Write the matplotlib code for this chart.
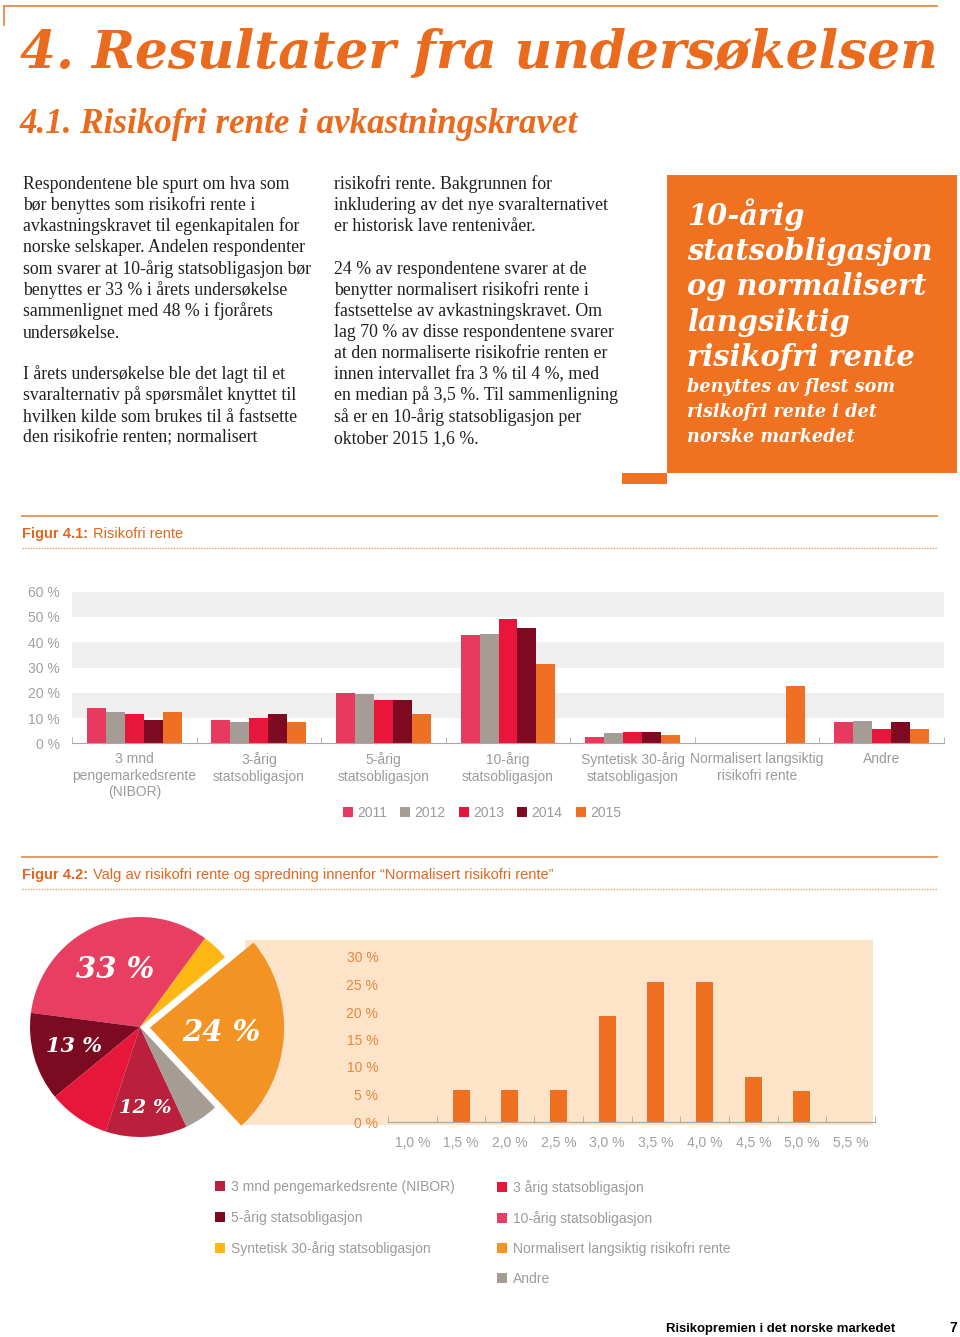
import numpy as np
import matplotlib
matplotlib.use("Agg")
import matplotlib.pyplot as plt
from matplotlib.patches import Rectangle
from matplotlib.lines import Line2D

W, H = 960, 1337
fig = plt.figure(figsize=(9.6, 13.37), dpi=100)
renderer = fig.canvas.get_renderer()


def fx(x):
    return x / W


def fy(y):
    return 1 - y / H


ORANGE = "#EB6B1E"
GREY_TXT = "#9B9B9B"
SANS = "Liberation Sans"
SERIF = "Liberation Serif"
HEAD = "DejaVu Serif"

# ---------------- data ----------------
years = ["2011", "2012", "2013", "2014", "2015"]
year_colors = ["#E8395F", "#A59D95", "#E8163A", "#7E0A22", "#F07023"]
categories = ["3 mnd\npengemarkedsrente\n(NIBOR)", "3-årig\nstatsobligasjon",
              "5-årig\nstatsobligasjon", "10-årig\nstatsobligasjon",
              "Syntetisk 30-årig\nstatsobligasjon",
              "Normalisert langsiktig\nrisikofri rente", "Andre"]
share_2011 = [14.1, 9.3, 20.0, 42.7, 2.6, 0, 8.5]
share_2012 = [12.3, 8.5, 19.5, 43.1, 4.1, 0, 9.0]
share_2013 = [11.5, 9.9, 17.1, 49.1, 4.6, 0, 5.8]
share_2014 = [9.3, 11.5, 17.1, 45.8, 4.6, 0, 8.4]
share_2015 = [12.3, 8.4, 11.5, 31.3, 3.3, 22.8, 5.8]
bar_ticks = [0, 10, 20, 30, 40, 50, 60]

pie_labels = ["3 mnd pengemarkedsrente (NIBOR)", "3 årig statsobligasjon",
              "5-årig statsobligasjon", "10-årig statsobligasjon",
              "Syntetisk 30-årig statsobligasjon",
              "Normalisert langsiktig risikofri rente", "Andre"]
pie_values = [12, 9, 13, 33, 4, 24, 5]
pie_colors = ["#BA1F3B", "#E6173A", "#7C0B21", "#E83E62", "#FDB813", "#F39324", "#A59C94"]
pie_text = {0: "12 %", 2: "13 %", 3: "33 %", 5: "24 %"}
pie_draw_order = [5, 4, 3, 2, 1, 0, 6]

hist_bins = ["1,0 %", "1,5 %", "2,0 %", "2,5 %", "3,0 %", "3,5 %",
             "4,0 %", "4,5 %", "5,0 %", "5,5 %"]
hist_share = [0, 5.9, 5.9, 5.9, 19.3, 25.4, 25.4, 8.2, 5.6, 0]
hist_ticks = [0, 5, 10, 15, 20, 25, 30]

left_col = ["Respondentene ble spurt om hva som",
            "bør benyttes som risikofri rente i",
            "avkastningskravet til egenkapitalen for",
            "norske selskaper. Andelen respondenter",
            "som svarer at 10-årig statsobligasjon bør",
            "benyttes er 33 % i årets undersøkelse",
            "sammenlignet med 48 % i fjorårets",
            "undersøkelse.",
            "",
            "I årets undersøkelse ble det lagt til et",
            "svaralternativ på spørsmålet knyttet til",
            "hvilken kilde som brukes til å fastsette",
            "den risikofrie renten; normalisert"]
mid_col = ["risikofri rente. Bakgrunnen for",
           "inkludering av det nye svaralternativet",
           "er historisk lave rentenivåer.",
           "",
           "24 % av respondentene svarer at de",
           "benytter normalisert risikofri rente i",
           "fastsettelse av avkastningskravet. Om",
           "lag 70 % av disse respondentene svarer",
           "at den normaliserte risikofrie renten er",
           "innen intervallet fra 3 % til 4 %, med",
           "en median på 3,5 %. Til sammenligning",
           "så er en 10-årig statsobligasjon per",
           "oktober 2015 1,6 %."]
callout_big = ["10-årig", "statsobligasjon", "og normalisert", "langsiktig", "risikofri rente"]
callout_small = ["benyttes av flest som", "risikofri rente i det", "norske markedet"]


def fit(t, width):
    bb = t.get_window_extent(renderer)
    t.set_fontsize(t.get_fontsize() * width / bb.width)


def hline(x0, x1, y, **kw):
    fig.add_artist(Line2D([fx(x0), fx(x1)], [fy(y), fy(y)], transform=fig.transFigure, **kw))


# ---------------- page header ----------------
hline(4, 937, 6, color="#E8803A", lw=1.2)
fig.add_artist(Line2D([fx(4), fx(4)], [fy(6), fy(25)], transform=fig.transFigure,
                      color="#E8803A", lw=1.2))
t = fig.text(fx(20), fy(68), "4. Resultater fra undersøkelsen", color=ORANGE,
             family=HEAD, style="italic", weight="bold", fontsize=40, va="baseline")
fit(t, 918)
t = fig.text(fx(20), fy(133), "4.1. Risikofri rente i avkastningskravet", color=ORANGE,
             family=SERIF, style="italic", weight="bold", fontsize=20, va="baseline")
fit(t, 558)

body_size = 12.8
for k, line in enumerate(left_col):
    fig.text(fx(23), fy(189 + 21.15 * k), line, family=SERIF, fontsize=body_size,
             color="#231F20", va="baseline")
for k, line in enumerate(mid_col):
    fig.text(fx(334), fy(189 + 21.15 * k), line, family=SERIF, fontsize=body_size,
             color="#231F20", va="baseline")

# orange call-out box
fig.add_artist(Rectangle((fx(667), fy(473)), (957 - 667) / W, (473 - 175) / H,
                         transform=fig.transFigure, color="#F0711F", lw=0))
fig.add_artist(Rectangle((fx(622), fy(484)), (667 - 622) / W, 11 / H,
                         transform=fig.transFigure, color="#F0711F", lw=0))
big = []
for k, line in enumerate(callout_big):
    big.append(fig.text(fx(687), fy(225 + 35.2 * k), line, color="white", family=HEAD,
                        style="italic", weight="bold", fontsize=26, va="baseline"))
fit(big[1], 246)
for b in big:
    b.set_fontsize(big[1].get_fontsize())
small = []
for k, line in enumerate(callout_small):
    small.append(fig.text(fx(687), fy(392 + 25 * k), line, color="white", family=HEAD,
                          style="italic", weight="bold", fontsize=17, va="baseline"))
fit(small[0], 208)
for s in small:
    s.set_fontsize(small[0].get_fontsize())

# figure captions
for y_solid, y_txt, y_dot, num, cap in [
        (516, 538, 548, "Figur 4.1:", "Risikofri rente"),
        (857, 879, 889, "Figur 4.2:", "Valg av risikofri rente og spredning innenfor \u201cNormalisert risikofri rente\u201d")]:
    hline(22, 937, y_solid, color="#E49A66", lw=1.4)
    fig.text(fx(22), fy(y_txt), num, family=SANS, weight="bold", fontsize=10.5,
             color="#E2661F", va="baseline")
    fig.text(fx(93), fy(y_txt), cap, family=SANS, fontsize=10.5, color="#E2661F", va="baseline")
    hline(22, 937, y_dot, color="#E8904F", lw=0.9, ls=(0, (1, 1.2)))

# ---------------- Figur 4.1: bar chart ----------------
ax1 = fig.add_axes([fx(72), fy(743.3), (944 - 72) / W, 151.6 / H])
x = np.arange(len(categories))
bw = 0.1525
series = [share_2011, share_2012, share_2013, share_2014, share_2015]
for i, (yr, vals, col) in enumerate(zip(years, series, year_colors)):
    ax1.bar(x + (i - 2) * bw, vals, bw, color=col, label=yr, zorder=2, lw=0)
for lo in (10, 30, 50):
    ax1.axhspan(lo, lo + 10, color="#F0F0F0", zorder=0, lw=0)
ax1.set_xlim(-0.5, len(categories) - 0.5)
ax1.set_ylim(0, 60)
for s in ("top", "right", "left"):
    ax1.spines[s].set_visible(False)
ax1.spines["bottom"].set_color("#A8A8A8")
ax1.set_xticks(x)
ax1.set_xticklabels(categories, fontsize=10, color=GREY_TXT, family=SANS, linespacing=1.2)
ax1.set_xticks(np.arange(len(categories) + 1) - 0.5, minor=True)
ax1.tick_params(axis="x", which="major", length=0, pad=6.5)
ax1.tick_params(axis="x", which="minor", length=4, direction="in", color="#A8A8A8")
ax1.set_yticks(bar_ticks)
ax1.set_yticklabels([f"{v} %" for v in bar_ticks], fontsize=10, color="#A0A0A0", family=SANS)
ax1.tick_params(axis="y", length=0, pad=9)
ax1.set_facecolor("white")
ax1.legend(loc="center", bbox_to_anchor=(fx(482), fy(813)), bbox_transform=fig.transFigure,
           ncol=5, frameon=False, handlelength=0.72, handleheight=0.72, handletextpad=0.3,
           columnspacing=0.95, borderaxespad=0, prop={"family": SANS, "size": 10},
           labelcolor=GREY_TXT)

# ---------------- Figur 4.2: pie + distribution ----------------
fig.add_artist(Rectangle((fx(245), fy(1125)), (873 - 245) / W, (1125 - 940) / H,
                         transform=fig.transFigure, color="#FDE3C8", lw=0, zorder=-1))

ax2 = fig.add_axes([fx(30), fy(1137), 220 / W, 220 / H])
ax2.patch.set_alpha(0)
vals = [pie_values[i] for i in pie_draw_order]
cols = [pie_colors[i] for i in pie_draw_order]
expl = [0.09 if i == 5 else 0 for i in pie_draw_order]
wedges, _ = ax2.pie(vals, colors=cols, explode=expl, startangle=-47, counterclock=True,
                    wedgeprops=dict(linewidth=0))
ax2.set_xlim(-1, 1)
ax2.set_ylim(-1, 1)
label_dist = {0: 0.74, 2: 0.62, 3: 0.57, 5: 0.65}
label_size = {0: 14, 2: 15, 3: 21, 5: 21}
for w, idx in zip(wedges, pie_draw_order):
    w.set_clip_on(False)
    if idx == 5:
        w.set_radius(1.22)
    if idx in pie_text:
        mid = np.deg2rad((w.theta1 + w.theta2) / 2)
        cx, cy = w.center
        d = label_dist[idx]
        ax2.text(cx + d * np.cos(mid), cy + d * np.sin(mid), pie_text[idx], color="white",
                 family=HEAD, style="italic", weight="bold",
                 fontsize=label_size[idx], ha="center", va="center")

ax3 = fig.add_axes([fx(388), fy(1122), (875 - 388) / W, 165 / H])
ax3.patch.set_alpha(0)
xb = np.arange(len(hist_bins))
ax3.bar(xb, hist_share, 0.35, color="#F07022", lw=0)
ax3.set_xlim(-0.5, len(hist_bins) - 0.5)
ax3.set_ylim(0, 30)
for s in ("top", "right", "left"):
    ax3.spines[s].set_visible(False)
ax3.spines["bottom"].set_color("#A8A8A8")
ax3.set_xticks(xb)
ax3.set_xticklabels(hist_bins, fontsize=10, color="#A0A0A0", family=SANS)
ax3.set_xticks(np.arange(len(hist_bins) + 1) - 0.5, minor=True)
ax3.tick_params(axis="x", which="major", length=0, pad=10)
ax3.tick_params(axis="x", which="minor", length=4, direction="in", color="#A8A8A8")
ax3.set_yticks(hist_ticks)
ax3.set_yticklabels([f"{v} %" for v in hist_ticks], fontsize=10, color="#E8873F", family=SANS)
ax3.tick_params(axis="y", length=0, pad=7)

# pie legend in two columns
left_idx = [0, 2, 4]
right_idx = [1, 3, 5, 6]
by_idx = dict(zip(pie_draw_order, wedges))
for idxs, x0 in ((left_idx, 215), (right_idx, 497)):
    fig.legend([by_idx[i] for i in idxs], [pie_labels[i] for i in idxs], loc="upper left",
               bbox_to_anchor=(fx(x0), fy(1180)), bbox_transform=fig.transFigure,
               frameon=False, handlelength=0.72, handleheight=0.72, handletextpad=0.45,
               labelspacing=1.15, borderpad=0, borderaxespad=0,
               prop={"family": SANS, "size": 10}, labelcolor=GREY_TXT)

# footer
t = fig.text(fx(666), fy(1332), "Risikopremien i det norske markedet", family=SANS,
             weight="bold", fontsize=10, color="black", va="baseline")
fit(t, 230)
fig.text(fx(957), fy(1332), "7", family=SANS, weight="bold", fontsize=10, color="black",
         va="baseline", ha="right")

fig.savefig("out.png", dpi=100)
